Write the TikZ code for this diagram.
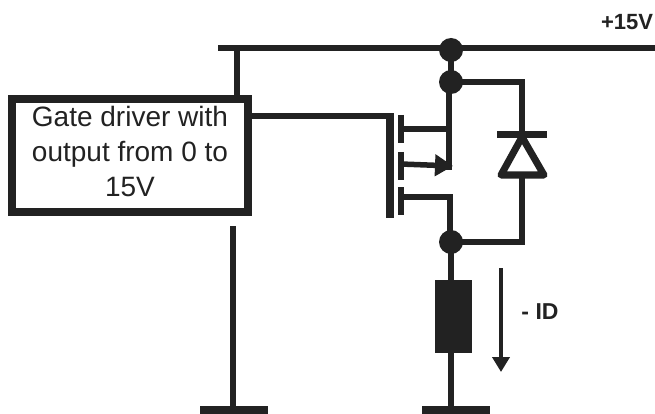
\documentclass[tikz,border=0pt]{standalone}
\usepackage{fontspec}
\setmainfont{Liberation Sans}
\usetikzlibrary{arrows.meta}
\definecolor{ink}{HTML}{222222}
\tikzset{
 wire/.style={draw=ink,line width=5.5pt},
 dot/.style={circle,fill=ink,minimum size=24pt,inner sep=0pt},
 plate/.style={fill=ink,draw=none},
 lbl/.style={text=ink,inner sep=0pt}
}
\begin{document}
\begin{tikzpicture}[x=1pt,y=-1pt]
\useasboundingbox[fill=white] (0,0) rectangle (655,414);
\coordinate (busL) at (218,48);
\coordinate (busR) at (655,48);
\coordinate (busT) at (237,48);
\coordinate (gndLtop) at (233,226);
\coordinate (gndL) at (233,408);
\coordinate (gndR) at (451,408);
\node[dot] (d1) at (451,50) {};
\node[dot] (d2) at (451,82) {};
\node[dot] (d3) at (451,242) {};
% driver
\node[draw=ink,line width=8pt,minimum width=236pt,minimum height=113pt,inner sep=0pt] (drv) at (130,155.5) {};
\node[lbl,align=center,font=\fontsize{28}{35}\selectfont] (drvtext) at (130,151) {Gate driver with\\output from 0 to\\15V};
% rails
\draw[wire] (busL) -- (busR);
\draw[wire] (busT) -- (busT |- drv.north);
\draw[wire] (gndLtop) -- (gndL);
\draw[wire] (d1.center) -- (d2.center);
% gate
\coordinate (gt) at (390,116);
\coordinate (gb) at (390,218);
\draw[wire] (drv.east |- gt) -- (gt);
\draw[draw=ink,line width=8pt] (390,113.5) -- (gb);
% channel
\coordinate (c1a) at (401,115); \coordinate (c1b) at (401,143);
\coordinate (c2a) at (401,152); \coordinate (c2b) at (401,180);
\coordinate (c3a) at (401,187); \coordinate (c3b) at (401,215);
\draw[draw=ink,line width=5.5pt] (c1a)--(c1b) (c2a)--(c2b) (c3a)--(c3b);
% drain/source
\coordinate (dr) at (449,129);
\coordinate (sr) at (449,167);
\draw[wire,line cap=rect] (d2.center) -- (dr |- d2) -- (sr);
\draw[wire] (401,129) -- (dr);
\draw[wire,-{Triangle[length=18pt,width=21pt]}] (401,164) -- (453,166);
\draw[wire,line join=miter] (401,197) -- (450,197) -- (450,242);
% diode
\coordinate (dt) at (522,82);
\coordinate (db) at (522,242);
\draw[wire,line cap=rect] (d2.center) -- (dt) -- (522,135);
\draw[wire,line cap=rect] (522,176) -- (db) -- (d3.center);
\draw[draw=ink,line width=7pt] (497,135) -- (547,135);
\draw[draw=ink,line width=7pt,line join=round] (522,137) -- (501,175) -- (544,175) -- cycle;
% load
\node[plate,minimum width=37pt,minimum height=73pt,inner sep=0pt] (res) at (453.5,316.5) {};
\draw[wire] (d3.center) -- (d3 |- res.north);
\draw[wire] (d3 |- res.south) -- (gndR);
% grounds
\node[plate,minimum width=68pt,minimum height=8pt,inner sep=0pt] (gl) at (234,410) {};
\node[plate,minimum width=68pt,minimum height=8pt,inner sep=0pt] (gr) at (456,410) {};
% current arrow
\coordinate (ia) at (501,268);
\coordinate (ib) at (501,372);
\draw[draw=ink,line width=4.5pt,-{Triangle[length=15pt,width=17pt]}] (ia) -- (ib);
\node[lbl,font=\bfseries\fontsize{23}{25}\selectfont] (id) at (540,312) {- ID};
\node[lbl,font=\bfseries\fontsize{22}{24}\selectfont] (v) at (627,22) {+15V};
\end{tikzpicture}
\end{document}
